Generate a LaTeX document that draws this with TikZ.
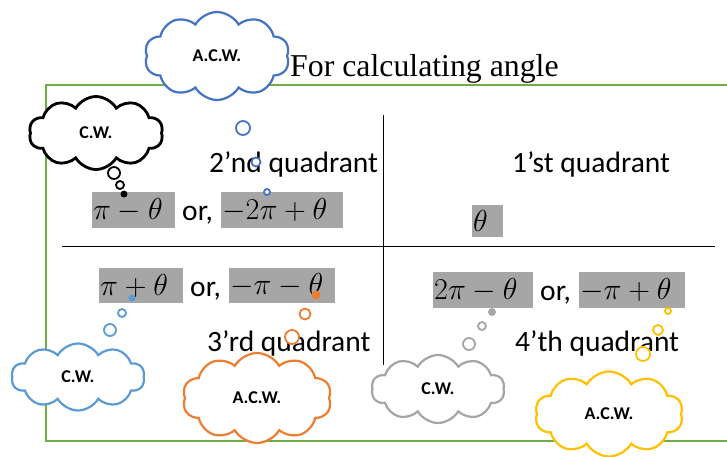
\RequirePackage{fix-cm}
\documentclass[tikz,border=0pt]{standalone}
\usepackage{graphicx}
\usepackage{fontspec}
\setmainfont{Carlito}
\newfontfamily\titlefont{Liberation Serif}
\usetikzlibrary{shapes.symbols}
\definecolor{boxgreen}{RGB}{112,173,71}
\definecolor{shade}{RGB}{166,166,166}
\definecolor{cblue}{RGB}{68,114,196}
\definecolor{clblue}{RGB}{91,155,213}
\definecolor{corange}{RGB}{237,125,49}
\definecolor{cgray}{RGB}{165,165,165}
\definecolor{cyellow}{RGB}{255,192,0}
\newcommand{\mth}[1]{\scalebox{1.08}{$#1$}}
\begin{document}
\begin{tikzpicture}[x=1pt,y=-1pt,
  quadtext/.style={anchor=base west, inner sep=0, font=\fontsize{29.5}{32}\selectfont},
  gbox/.style={anchor=north west, fill=shade, inner xsep=1pt, inner ysep=0, align=left, font=\fontsize{28}{31}\selectfont},
  cloudbox/.style={cloud, cloud puffs=10, cloud puff arc=120, cloud ignores aspect, draw, fill=white, line width=2.2pt, inner sep=0, font=\bfseries\fontsize{18}{20}\selectfont},
  bubble/.style={circle, draw, fill=white, line width=1.8pt, inner sep=0}
]
\useasboundingbox (0,0) rectangle (727,456);
% title
\node[anchor=base west, inner sep=0, font=\titlefont\fontsize{31.8}{34}\selectfont] (title) at (290,76) {For calculating angle};
% frame
\draw[boxgreen, line width=2.6pt] (46,85) rectangle (740,441);
% axes
\coordinate (vt) at (383,115); \coordinate (vb) at (383,365);
\coordinate (hl) at (62,246); \coordinate (hr) at (715,246);
\draw[line width=1pt] (vt) -- (vb);
\draw[line width=1pt] (hl) -- (hr);
% quadrant names
\node[quadtext] (q2) at (209,172) {2’nd quadrant};
\node[quadtext] (q1) at (512,172) {1’st quadrant};
\node[quadtext] (q3) at (207,351) {3’rd quadrant};
\node[quadtext] (q4) at (515,351) {4’th quadrant};
% formulas
\node[gbox, text width=81pt, minimum height=36pt] (f2a) at (92,192) {\mth{\pi-\theta}};
\node[quadtext] (or2) at (182,220) {or,};
\node[gbox, text width=120pt, minimum height=36pt] (f2b) at (221,192) {\mth{-2\pi+\theta}};
\node[gbox, text width=29pt, minimum height=32pt] (f1) at (472,205) {\mth{\theta}};
\node[gbox, text width=82pt, minimum height=35pt] (f3a) at (99,268) {\mth{\pi+\theta}};
\node[quadtext] (or3) at (190,296) {or,};
\node[gbox, text width=104pt, minimum height=35pt] (f3b) at (229,268) {\mth{-\pi-\theta}};
\node[gbox, text width=98pt, minimum height=36pt] (f4a) at (433,272) {\mth{2\pi-\theta}};
\node[quadtext] (or4) at (540,300) {or,};
\node[gbox, text width=104pt, minimum height=36pt] (f4b) at (579,272) {\mth{-\pi+\theta}};
% top blue cloud
\node[bubble, draw=cblue, minimum size=14pt] (b1a) at (243,128) {};
\node[bubble, draw=cblue, minimum size=9pt] (b1b) at (256,162) {};
\node[bubble, draw=cblue, minimum size=6pt] (b1c) at (267,192) {};
\node[cloudbox, draw=cblue, minimum width=145pt, minimum height=88pt] (c1) at (217,56) {A.C.W.\\[10pt]};
% black cloud
\node[bubble, draw=black, minimum size=12pt] (b2a) at (114,173) {};
\node[bubble, draw=black, minimum size=8pt] (b2b) at (120,185) {};
\node[bubble, draw=black, fill=black, minimum size=5pt] (b2c) at (124,194) {};
\node[cloudbox, draw=black, line width=2.8pt, minimum width=134pt, minimum height=73pt] (c2) at (96,133) {C.W.};
% light blue cloud
\node[bubble, draw=clblue, minimum size=12pt] (b3a) at (110,330) {};
\node[bubble, draw=clblue, minimum size=8pt] (b3b) at (122,313) {};
\node[bubble, draw=clblue, fill=clblue, minimum size=5pt] (b3c) at (132,298) {};
\node[cloudbox, draw=clblue, minimum width=133pt, minimum height=67pt] (c3) at (78,377) {C.W.};
% orange cloud
\node[bubble, draw=corange, minimum size=14pt] (b4a) at (292,337) {};
\node[bubble, draw=corange, minimum size=11pt] (b4b) at (305,314) {};
\node[bubble, draw=corange, fill=corange, minimum size=7pt] (b4c) at (316,295) {};
\node[cloudbox, draw=corange, minimum width=149pt, minimum height=90pt] (c4) at (257,398) {A.C.W.};
% gray cloud
\node[bubble, draw=cgray, minimum size=12pt] (b5a) at (469,344) {};
\node[bubble, draw=cgray, minimum size=8pt] (b5b) at (482,326) {};
\node[bubble, draw=cgray, fill=cgray, minimum size=6pt] (b5c) at (492,312) {};
\node[cloudbox, draw=cgray, minimum width=133pt, minimum height=68pt] (c5) at (438,389) {C.W.};
% yellow cloud
\node[bubble, draw=cyellow, minimum size=14pt] (b6a) at (643,354) {};
\node[bubble, draw=cyellow, minimum size=10pt] (b6b) at (658,330) {};
\node[bubble, draw=cyellow, minimum size=6pt] (b6c) at (668,311) {};
\node[cloudbox, draw=cyellow, minimum width=148pt, minimum height=85pt] (c6) at (609,414) {A.C.W.};
\end{tikzpicture}
\end{document}
